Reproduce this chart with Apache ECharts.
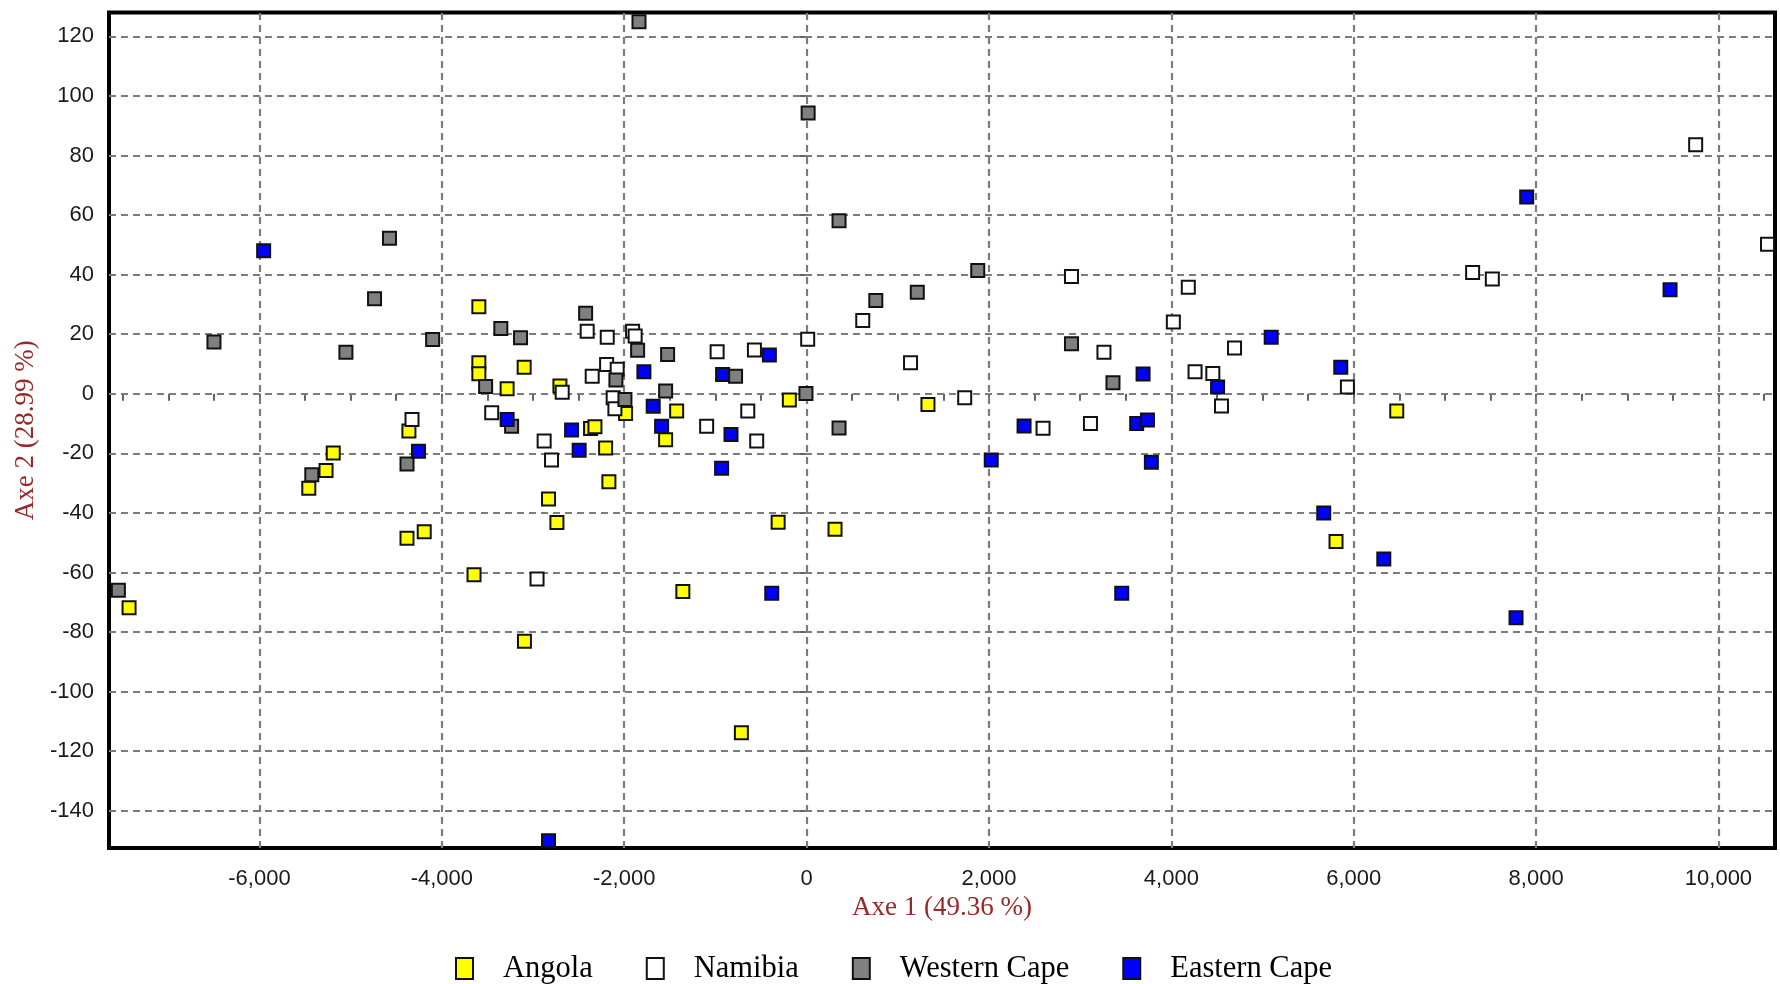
<!DOCTYPE html>
<html>
<head>
<meta charset="utf-8">
<script src="https://cdn.jsdelivr.net/npm/echarts@6/dist/echarts.min.js"></script>
<style>
html,body{margin:0;padding:0;background:#fff;}
#chart{width:1780px;height:984px;}
</style>
</head>
<body>
<div id="chart"></div>
<script>
// ---- data (Axe 1, Axe 2) ----
const angola = [
  [-7430,-71.8],[-5459,-31.7],[-5270,-25.8],[-5191,-19.9],[-4361,-12.5],[-4382,-48.5],
  [-4193,-46.3],[-3647,-60.8],[-3594,29.2],[-3594,10.4],[-3594,6.7],[-3284,1.7],
  [-3097,8.9],[-3094,-83.1],[-2705,2.6],[-2830,-35.3],[-2738,-43.2],[-2369,-11.7],
  [-2321,-11.1],[-2204,-18.2],[-2168,-29.5],[-1985,-6.6],[-1425,-5.8],[-1546,-15.4],
  [-1357,-66.4],[-715,-113.8],[-312,-43.1],[-189,-2.1],[312,-45.5],[1331,-3.6],
  [5806,-49.6],[6472,-5.8]
];
const namibia = [
  [-4327,-8.6],[-3453,-6.4],[-2956,-62.2],[-2878,-15.9],[-2797,-22.2],[-2680,0.5],
  [-2406,21],[-2351,5.9],[-2186,19],[-2193,9.8],[-2077,8.2],[-2121,-1.3],[-2102,-5],
  [-1908,21],[-1880,19.4],[-1096,-10.9],[-981,14.1],[-645,-5.8],[-572,14.7],[-547,-15.9],
  [12,18.3],[616,24.6],[1140,10.4],[1734,-1.3],[2593,-11.6],[2905,39.4],[3113,-10],
  [3261,13.9],[4022,24.1],[4186,35.8],[4260,7.4],[4455,6.8],[4550,-4.1],[4693,15.4],
  [5931,2.3],[7304,40.7],[7520,38.5],[9750,83.6],[10538,50.2]
];
const westernCape = [
  [-7547,-66],[-6499,17.4],[-5052,13.9],[-4738,31.9],[-4574,52.2],[-4101,18.2],
  [-5426,-27.2],[-4382,-23.6],[-3520,2.4],[-3353,21.9],[-3137,18.8],[-3235,-10.9],
  [-2423,27],[-2091,4.6],[-1992,-1.9],[-1853,14.6],[-1838,124.9],[-1524,13.2],
  [-1546,0.9],[-779,5.9],[-7,0.1],[17,94.3],[356,58.1],[356,-11.5],[759,31.3],
  [1214,34.1],[1877,41.4],[2905,16.8],[3360,3.7]
];
const easternCape = [
  [-5954,48],[-4256,-19.3],[-3284,-8.6],[-2577,-12.2],[-2494,-19],[-2830,-150.1],
  [-1784,7.4],[-1682,-4.2],[-1590,-10.9],[-921,6.5],[-829,-13.7],[-932,-25],
  [-408,13],[-382,-67],[2025,-22.2],[2385,-10.8],[3456,-67],[3620,-10],[3690,6.6],
  [3738,-8.8],[3781,-23],[4507,2.3],[5095,19],[5858,8.9],[5671,-40],[6330,-55.5],
  [7780,-75.2],[7897,66.1],[9469,34.9]
];
const seriesNames = ['Angola','Namibia','Western Cape','Eastern Cape'];
const xTicks = [-6000,-4000,-2000,0,2000,4000,6000,8000,10000];
const xMinorTicks = [-7500,-7000,-6500,-6000,-5500,-5000,-4500,-4000,-3500,-3000,-2500,-2000,-1500,-1000,-500,0,500,1000,1500,2000,2500,3000,3500,4000,4500,5000,5500,6000,6500,7000,7500,8000,8500,9000,9500,10000,10500];
const yTicks = [-140,-120,-100,-80,-60,-40,-20,0,20,40,60,80,100,120];
const xTitle = 'Axe 1 (49.36 %)';
const yTitle = 'Axe 2 (28.99 %)';

const colors = ['#ffff00','#ffffff','#808080','#0000ff'];
const groups = [angola, namibia, westernCape, easternCape];

const chart = echarts.init(document.getElementById('chart'), null, {renderer:'canvas'});

const gridLineStyle = {type:[7,5], color:'#7c7c7c', width:2.2};
const markData = xTicks.map(v => ({xAxis:v})).concat(yTicks.map(v => ({yAxis:v})));

const series = groups.map((g,i) => ({
  name: seriesNames[i],
  type: 'scatter',
  data: g,
  symbol: 'rect',
  symbolSize: 13,
  z: 3,
  itemStyle: {color: colors[i], borderColor:'#111', borderWidth:2, opacity:1},
  emphasis: {disabled:true}
}));
series.unshift({
  name: 'grid',
  type: 'scatter',
  data: [],
  z: 1,
  silent: true,
  markLine: {
    silent: true,
    z: 1,
    symbol: ['none','none'],
    label: {show:false},
    lineStyle: gridLineStyle,
    emphasis: {disabled:true},
    animation: false,
    data: markData
  }
});

const fmt = v => Number(v).toLocaleString('en-US');

chart.setOption({
  animation: false,
  backgroundColor: '#ffffff',
  grid: {
    left: 109, right: 5, top: 12.5, bottom: 136,
    show: true, borderColor:'#000', borderWidth:4,
    containLabel: false, outerBoundsMode: 'none'
  },
  xAxis: {
    type: 'value', min: -7650, max: 10620,
    splitLine: {show:false},
    axisLine: {show:false},
    axisTick: {show:true, customValues: xMinorTicks, length:7, lineStyle:{color:'#333', width:1.5}},
    axisLabel: {customValues: xTicks, formatter: fmt, fontFamily:'Liberation Sans, Arial', fontSize:22, color:'#1a1a1a', margin:20},
    name: xTitle, nameLocation:'middle', nameGap: 46,
    nameTextStyle: {fontFamily:'Liberation Serif, Times New Roman', fontSize:27, color:'#952a2a'}
  },
  yAxis: {
    type: 'value', min: -152.5, max: 128,
    splitLine: {show:false},
    axisLine: {show:false},
    axisTick: {show:true, customValues: yTicks, length:8, lineStyle:{color:'#333', width:1.5}},
    axisLabel: {customValues: yTicks, fontFamily:'Liberation Sans, Arial', fontSize:22, color:'#1a1a1a', margin:15},
    name: yTitle, nameLocation:'middle', nameGap: 69, nameRotate: 90,
    nameTextStyle: {fontFamily:'Liberation Serif, Times New Roman', fontSize:27, color:'#952a2a'}
  },
  legend: {
    data: seriesNames,
    left: 450, top: 948,
    icon: 'rect',
    itemWidth: 17, itemHeight: 21, itemGap: 53,
    itemStyle: {borderColor:'#111', borderWidth:2},
    textStyle: {fontFamily:'Liberation Serif, Times New Roman', fontSize:30.5, color:'#000', padding:[0,0,0,25]},
    selectedMode: false
  },
  series: series
});
</script>
</body>
</html>
